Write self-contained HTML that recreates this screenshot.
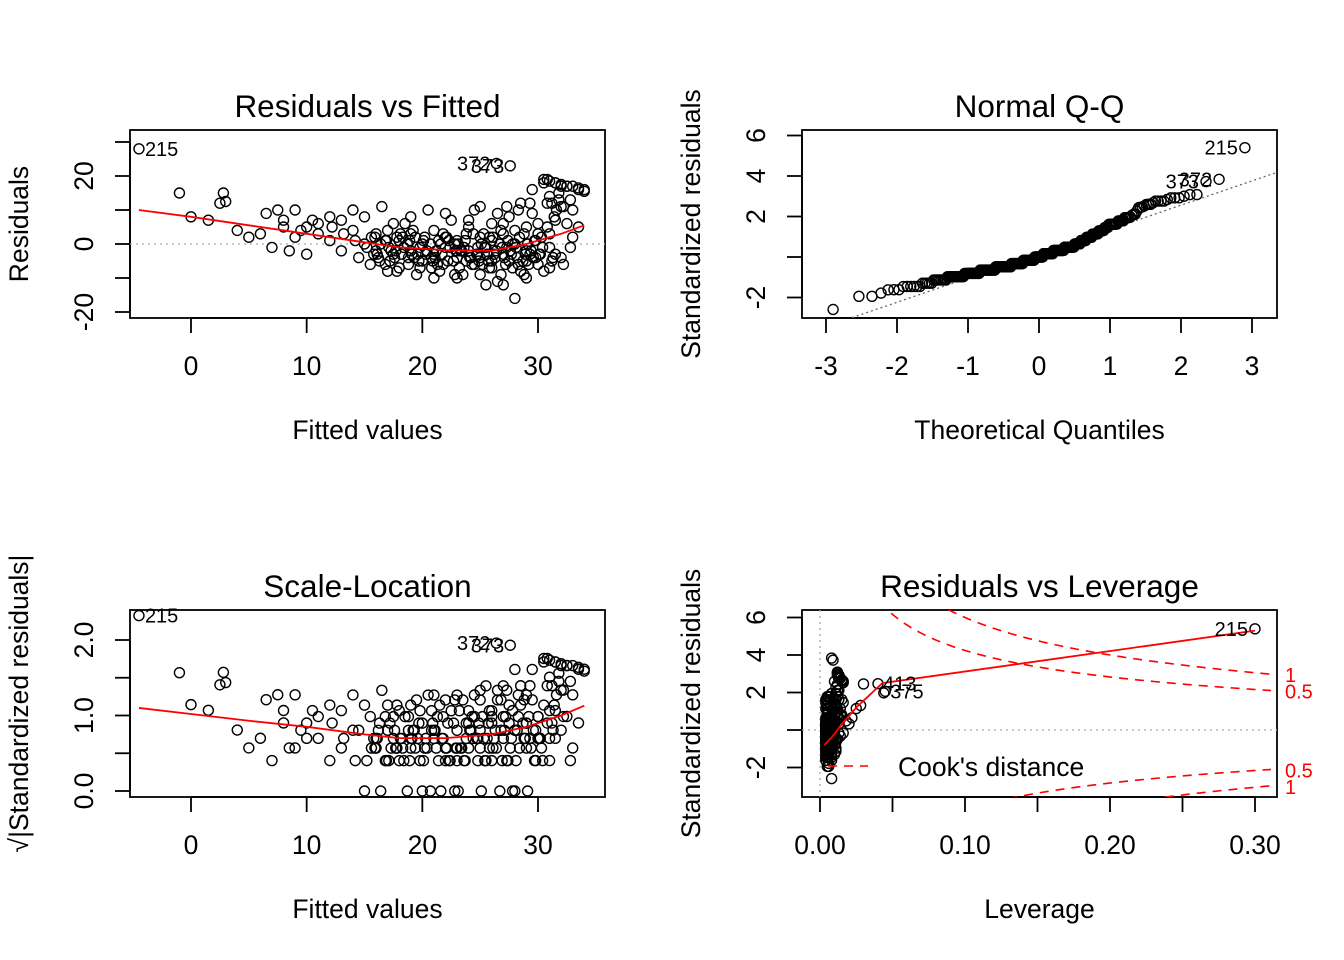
<!DOCTYPE html>
<html><head><meta charset="utf-8">
<style>
html,body{margin:0;padding:0;background:#fff;overflow:hidden;}
svg{display:block;font-family:"Liberation Sans",Arial,sans-serif;}
</style></head>
<body>
<svg id="c" width="1344" height="960" viewBox="0 0 1344 960"></svg>
<script>
// ---- data (one observation per index) ----
const fitted=[-4.5,-1,0,1.5,2.5,2.8,3,4,5,6,6.5,7,7.5,8,8,9,9,10,10,11,11,12,12,13,13,14,14,14.5,15,15,15.5,16,16,16.5,17,17,17.5,18,18,18.5,19,19,19.5,20,20,20.5,21,21,21.5,22,22,22.5,23,23,23.5,24,24,24.5,25,25,25,25.5,26,26,26,26.5,27,27,27.5,27.5,28,28,28.5,28.5,29,29,29.5,29.5,30,30,30.5,30.5,31,31,31.5,31.5,32,32,32.5,33,33.5,34,33,32.5,31,26.4,27.6,
16.2,16.8,17.2,17.8,18.2,18.8,19.2,19.8,20.2,20.8,21.2,21.8,22.2,22.8,23.2,23.8,24.2,24.8,25.2,25.8,26.2,26.8,27.2,27.8,28.2,28.8,29.2,29.8,30.2,30.8,17.5,19,21,22,23,24,25,26,27,28,29,30,31,31.5,32,32.8,31.8,30.8,29.8,28.8,27.8,26.8,25.8,24.8,23.8,22.8,21.8,20.8,19.8,18.8,17.8,16.8,15.8,14.2,13.2,12.2,10.5,9.5,8.5,26.5,27.3,28.3,29.3,24.5,23,25.5,27,29,31.2,32.2,33.5,32.8,
30.5,31,31.5,32,32.5,33,33.5,34,30.8,31.8,31.2,31.6,32.2,31.4,
15.2,15.6,16.1,16.4,16.9,17.3,17.6,18.1,18.4,18.7,19.1,19.4,19.7,20.1,20.4,20.7,21.1,21.4,21.7,22.1,22.4,22.7,23.1,23.4,23.7,24.1,24.4,24.7,25.1,25.4,25.7,26.1,26.4,26.7,27.1,27.4,27.7,28.1,28.4,28.7,29.1,29.4,29.7,30.1,30.4,16.3,17.1,18.3,19.3,20.3,21.3,22.3,23.3,24.3,25.3,26.3,27.3,28.3,29.3,30.3,17.7,19.6,21.6,23.6,25.6,27.6,29.6,18.9,20.9,22.9,24.9,26.9,28.9,15.9,31.3];
const resid=[28,15,8,7,12,15,12.5,4,2,3,9,-1,10,5,7,2,10,5,-3,6,3,8,1,7,-2,10,4,-4,8,0,-6,3,-2,11,-8,4,-3,1,-7,6,-2,3,-9,0,-5,10,4,-3,-8,2,-1,7,-4,1,-9,5,-2,-6,11,2,-4,-1,6,-7,1,-11,3,-3,8,-5,-16,0,12,-8,5,-2,16,9,-6,3,19,-8,14,-1,18,7,17,-4,17,10,16,15.5,2,6,-7,23.7,23,
-4,1,-5,2,-3,-6,4,-1,2,-7,-2,3,-5,0,-7,3,-4,-1,-6,2,-3,4,-6,0,-4,3,-6,1,-3,5,6,8,-10,9,-2,7,-9,-5,6,4,-5,6,3,-3,11,13,13,12,-4,-9,-7,-9,-7,-3,-5,-9,-6,-4,-7,-4,-8,-6,-3,1,3,5,7,4,-2,9,11,10,12,10,-10,-12,-12,-10,-5,-6,5,-1,
18,18.5,18,17.5,17,17,16.5,16,19,15,12,10,11,8,
-1,2,-3,0,1,-2,-4,3,-1,0,-3,2,-5,1,-2,0,-4,1,-3,2,-1,-5,0,-2,1,-4,3,-3,0,-1,-5,2,-2,0,-4,1,-3,-1,2,-5,0,-2,1,-3,-1,-5,-1,2,-4,-3,-6,1,-2,-6,3,-4,-1,-6,-3,2,-2,-3,0,-1,-3,-2,-4,1,-5,-2,-5,-1,-3,2,-4];
const leverage=[0.300,0.030,0.028,0.025,0.044,0.040,0.045,0.022,0.020,0.018,0.016,0.016,0.015,0.015,0.014,0.013,0.013,0.012,0.012,0.011,0.011,0.010,0.010,0.009,0.009,0.009,0.008,0.008,0.008,0.007,0.007,0.007,0.006,0.006,0.006,0.006,0.005,0.005,0.005,0.005,0.005,0.005,0.005,0.004,0.004,0.004,0.004,0.004,0.004,0.004,0.004,0.004,0.004,0.004,0.004,0.005,0.005,0.005,0.005,0.005,0.005,0.005,0.006,0.006,0.006,0.006,0.006,0.006,0.007,0.007,0.008,0.007,0.008,0.008,0.008,0.008,0.010,0.009,0.009,0.009,0.012,0.010,0.011,0.010,0.013,0.011,0.013,0.011,0.013,0.013,0.015,0.016,0.013,0.012,0.011,0.008,0.009,
0.006,0.006,0.006,0.005,0.005,0.005,0.005,0.005,0.004,0.004,0.004,0.004,0.004,0.004,0.004,0.004,0.005,0.005,0.005,0.005,0.006,0.006,0.006,0.007,0.007,0.008,0.008,0.009,0.009,0.010,0.005,0.005,0.004,0.004,0.004,0.005,0.005,0.006,0.006,0.007,0.008,0.009,0.010,0.011,0.012,0.013,0.012,0.011,0.009,0.008,0.007,0.006,0.005,0.005,0.004,0.004,0.004,0.004,0.005,0.005,0.005,0.006,0.007,0.008,0.009,0.010,0.012,0.013,0.014,0.006,0.007,0.007,0.008,0.005,0.004,0.005,0.006,0.008,0.010,0.011,0.014,0.013,
0.012,0.012,0.013,0.013,0.013,0.014,0.015,0.016,0.012,0.012,0.011,0.011,0.012,0.011,
0.007,0.007,0.006,0.006,0.006,0.005,0.005,0.005,0.005,0.005,
0.005,0.004,0.004,0.004,0.004,0.004,0.004,0.004,0.004,0.004,
0.004,0.004,0.004,0.004,0.004,0.005,0.005,0.005,0.005,0.005,
0.005,0.006,0.006,0.006,0.006,0.006,0.007,0.007,0.007,0.008,
0.008,0.008,0.009,0.009,0.009,0.006,0.006,0.005,0.005,0.004,
0.004,0.004,0.004,0.005,0.005,0.006,0.006,0.007,0.008,0.009,
0.005,0.005,0.004,0.004,0.005,0.007,0.009,0.005,0.004,0.004,
0.005,0.006,0.008,0.007,0.011];
const obsLabels=["215","372","373"];
const lev4Labels=["215","413","375"];
const sigma=6.2;
const nParams=4;
// smoothers
const smoothFx=[-4.5,0,5,10,15,18,22,26,29,32,34];
const smoothRes=[10,8,5.5,3,0.5,-1,-1.8,-2,0,3,5.5];
const smoothScale=[1.1,1.02,0.93,0.85,0.75,0.7,0.7,0.75,0.85,1.0,1.13];
const smoothLev=[0.003,0.008,0.015,0.025,0.043,0.30];
const smoothLevY=[-0.8,-0.4,0.3,1.2,2.5,5.3];
const cookLevels=[0.5,1];
// ticks
const xTicksFit=[0,10,20,30];
const yTicksRes=[-20,-10,0,10,20,30];
const yLabRes=[-20,0,20];
const xTicksQQ=[-3,-2,-1,0,1,2,3];
const yTicksQQ=[-2,0,2,4,6];
const yLabQQ=[-2,2,4,6];
const yTicksSL=[0,0.5,1,1.5,2];
const yLabSL=["0.0","1.0","2.0"];
const xTicksLev=[0,0.05,0.1,0.15,0.2,0.25,0.3];
const xLabLev=["0.00","0.10","0.20","0.30"];
const yTicksLev=[-2,0,2,4,6];
const yLabLev=[-2,2,4,6];

const NS="http://www.w3.org/2000/svg";
const svg=document.getElementById('c');
function el(tag,attrs,parent,text){const e=document.createElementNS(NS,tag);for(const k in attrs)e.setAttribute(k,attrs[k]);if(text!==undefined)e.textContent=text;(parent||svg).appendChild(e);return e;}
function lin(d0,d1,r0,r1){return v=>r0+(v-d0)*(r1-r0)/(d1-d0);}
function qnorm(p){const a=[-39.6968302866538,220.946098424521,-275.928510446969,138.357751867269,-30.6647980661472,2.50662827745924],b=[-54.4760987982241,161.585836858041,-155.698979859887,66.8013118877197,-13.2806815528857],c=[-0.00778489400243029,-0.322396458041136,-2.40075827716184,-2.54973253934373,4.37466414146497,2.93816398269878],d=[0.00778469570904146,0.32246712907004,2.445134137143,3.75440866190742];const pl=0.02425;let q,r;if(p<pl){q=Math.sqrt(-2*Math.log(p));return(((((c[0]*q+c[1])*q+c[2])*q+c[3])*q+c[4])*q+c[5])/((((d[0]*q+d[1])*q+d[2])*q+d[3])*q+1);}if(p>1-pl){q=Math.sqrt(-2*Math.log(1-p));return-(((((c[0]*q+c[1])*q+c[2])*q+c[3])*q+c[4])*q+c[5])/((((d[0]*q+d[1])*q+d[2])*q+d[3])*q+1);}q=p-0.5;r=q*q;return(((((a[0]*r+a[1])*r+a[2])*r+a[3])*r+a[4])*r+a[5])*q/(((((b[0]*r+b[1])*r+b[2])*r+b[3])*r+b[4])*r+1);}

const n=Math.min(fitted.length,resid.length,leverage.length);
const stdRes=resid.slice(0,n).map((r,i)=>r/(sigma*Math.sqrt(1-leverage[i])));
const idxAll=[...Array(n).keys()];
const labelIdx=idxAll.slice().sort((a,b)=>Math.abs(stdRes[b])-Math.abs(stdRes[a])).slice(0,3);
const cook=idxAll.map(i=>stdRes[i]*stdRes[i]*leverage[i]/(nParams*(1-leverage[i])));
const lev4LabelIdx=idxAll.slice().sort((a,b)=>cook[b]-cook[a]).slice(0,3);

function frame(name,box,title,xTitle,yTitle,xt,xl,yt,yl,sx,sy){
  const g=el('g',{});
  
  
  const cp=el('clipPath',{id:'clip-'+name},g);
  el('rect',{x:box.x0,y:box.y0,width:box.x1-box.x0,height:box.y1-box.y0},cp);
  const r=el('rect',{x:box.x0,y:box.y0,width:box.x1-box.x0,height:box.y1-box.y0,fill:'none',stroke:'#000','stroke-width':1.8},g);
  
  
  const t=el('text',{x:(box.x0+box.x1)/2,y:box.y0-13,'text-anchor':'middle','font-size':31.5},g,title);
  
  
  const xa=el('g',{},g);
  
  
  el('line',{x1:sx(xt[0]),x2:sx(xt[xt.length-1]),y1:box.y1,y2:box.y1,stroke:'#000','stroke-width':1.8},xa);
  xt.forEach(v=>el('line',{x1:sx(v),x2:sx(v),y1:box.y1,y2:box.y1+15,stroke:'#000','stroke-width':1.8},xa));
  xl.forEach(([v,s])=>{const tl=el('text',{x:sx(v),y:box.y1+57,'text-anchor':'middle','font-size':26.5},xa,s);});
  const ya=el('g',{},g);
  
  
  el('line',{x1:box.x0,x2:box.x0,y1:sy(yt[0]),y2:sy(yt[yt.length-1]),stroke:'#000','stroke-width':1.8},ya);
  yt.forEach(v=>el('line',{x1:box.x0-15,x2:box.x0,y1:sy(v),y2:sy(v),stroke:'#000','stroke-width':1.8},ya));
  yl.forEach(([v,s])=>{const yy=sy(v);const tl=el('text',{x:box.x0-37,y:yy,'text-anchor':'middle','font-size':26.5,transform:`rotate(-90 ${box.x0-37} ${yy})`},ya,s);});
  const xtT=el('text',{x:(box.x0+box.x1)/2,y:box.y1+121,'text-anchor':'middle','font-size':26.5},g,xTitle);
  
  
  const ycy=(box.y0+box.y1)/2+(yTitle.length>26?-10:0);
  const ytT=el('text',{x:box.x0-102,y:ycy,'text-anchor':'middle','font-size':26.5,transform:`rotate(-90 ${box.x0-102} ${ycy})`},g,yTitle);
  
  
  const pg=el('g',{'clip-path':`url(#clip-${name})`},g);
  return pg;
}
function pts(g,xs,ys){xs.forEach((x,i)=>{const c=el('circle',{cx:x,cy:ys[i],r:5,fill:'none',stroke:'#000','stroke-width':1.4},g);});}
function poly(g,xs,ys,attrs,name){const p=el('polyline',Object.assign({points:xs.map((x,i)=>x+','+ys[i]).join(' '),fill:'none'},attrs),g);return p;}
function lab(parent,x,y,anchor,s){const t=el('text',{x:x,y:y,'text-anchor':anchor,'font-size':20},parent,s);}

const F=fitted.slice(0,n),R=resid.slice(0,n),H=leverage.slice(0,n);
// Panel 1: Residuals vs Fitted
{const box={x0:130,x1:605,y0:130,y1:318};
 const sx=lin(0,30,191,538), sy=lin(0,20,244,176);
 const g=frame('residuals-vs-fitted',box,'Residuals vs Fitted','Fitted values','Residuals',xTicksFit,xTicksFit.map(v=>[v,String(v)]),yTicksRes.filter(v=>sy(v)>=box.y0-2),yLabRes.map(v=>[v,String(v)]),sx,sy);
 poly(g,[box.x0,box.x1],[sy(0),sy(0)],{stroke:'#aaa','stroke-width':1.3,'stroke-dasharray':'2 4'},'zero-line');
 pts(g,F.map(sx),R.map(sy));
 poly(g,smoothFx.map(sx),smoothRes.map(sy),{stroke:'#f00','stroke-width':1.8},'smoother-line');
 const par=svg.lastChild;
 labelIdx.forEach((i,k)=>{const left=k===0;lab(par,sx(F[i])+(left?6:-6),sy(R[i])+7,left?'start':'end',obsLabels[k]);});
}
// Panel 2: Normal Q-Q
{const box={x0:802,x1:1277,y0:130,y1:318};
 const sx=lin(0,3,1039,1252), sy=lin(0,4,257,176);
 const g=frame('normal-qq',box,'Normal Q-Q','Theoretical Quantiles','Standardized residuals',xTicksQQ,xTicksQQ.map(v=>[v,String(v)]),yTicksQQ,yLabQQ.map(v=>[v,String(v)]),sx,sy);
 const order=idxAll.slice().sort((a,b)=>stdRes[a]-stdRes[b]);
 const th=order.map((_,k)=>qnorm((k+0.5)/n));
 const sorted=order.map(i=>stdRes[i]);
 const q1=sorted[Math.floor(0.25*n)],q3=sorted[Math.floor(0.75*n)],t1=qnorm(0.25),t3=qnorm(0.75);
 const sl=(q3-q1)/(t3-t1),ic=q1-sl*t1;
 poly(g,[sx(-3.5),sx(3.5)],[sy(ic-3.5*sl),sy(ic+3.5*sl)],{stroke:'#666','stroke-width':1.3,'stroke-dasharray':'2 3'},'qq-reference-line');
 pts(g,th.map(sx),sorted.map(sy));
 const par=svg.lastChild;
 labelIdx.forEach((i,k)=>{const pos=order.indexOf(i);lab(par,sx(th[pos])-7,sy(sorted[pos])+7,'end',obsLabels[k]);});
}
// Panel 3: Scale-Location
{const box={x0:130,x1:605,y0:610,y1:797};
 const sx=lin(0,30,191,538), sy=lin(0,2,791,640);
 const g=frame('scale-location',box,'Scale-Location','Fitted values','\u221A|Standardized residuals|',xTicksFit,xTicksFit.map(v=>[v,String(v)]),yTicksSL,[[0,yLabSL[0]],[1,yLabSL[1]],[2,yLabSL[2]]],sx,sy);
 pts(g,F.map(sx),stdRes.map(v=>sy(Math.sqrt(Math.abs(v)))));
 poly(g,smoothFx.map(sx),smoothScale.map(sy),{stroke:'#f00','stroke-width':1.8},'smoother-line');
 const par=svg.lastChild;
 labelIdx.forEach((i,k)=>{const left=k===0;lab(par,sx(F[i])+(left?6:-6),sy(Math.sqrt(Math.abs(stdRes[i])))+7,left?'start':'end',obsLabels[k]);});
}
// Panel 4: Residuals vs Leverage
{const box={x0:802,x1:1277,y0:610,y1:797};
 const sx=lin(0,0.3,820,1255), sy=lin(0,4,730,655);
 const g=frame('residuals-vs-leverage',box,'Residuals vs Leverage','Leverage','Standardized residuals',xTicksLev,xLabLev.map((s,k)=>[k*0.1,s]),yTicksLev,yLabLev.map(v=>[v,String(v)]),sx,sy);
 poly(g,[box.x0,box.x1],[sy(0),sy(0)],{stroke:'#aaa','stroke-width':1.3,'stroke-dasharray':'2 4'},'zero-line');
 poly(g,[sx(0),sx(0)],[box.y0,box.y1],{stroke:'#aaa','stroke-width':1.3,'stroke-dasharray':'2 4'},'zero-leverage-line');
 pts(g,H.map(sx),stdRes.map(sy));
 poly(g,smoothLev.map(sx),smoothLevY.map(sy),{stroke:'#f00','stroke-width':1.8},'smoother-line');
 const hs=[];for(let h=0.005;h<=0.312;h+=0.002)hs.push(h);
 const par=svg.lastChild;
 cookLevels.forEach(c=>{[1,-1].forEach(sg=>{
   const ys=hs.map(h=>sg*Math.sqrt(c*nParams*(1-h)/h));
   poly(g,hs.map(sx),ys.map(sy),{stroke:'#f00','stroke-width':1.6,'stroke-dasharray':'9 7'},'cooks-contour');
   const hEnd=0.31,yv=sg*Math.sqrt(c*nParams*(1-hEnd)/hEnd);
   const t=el('text',{x:box.x1+8,y:sy(yv)+8,'font-size':20,fill:'#f00'},par,String(c));
 });});
 lev4LabelIdx.forEach((i,k)=>{lab(par,sx(H[i])+(k===0?-7:5),sy(stdRes[i])+7,k===0?'end':'start',lev4Labels[k]);});
 const lg=el('g',{},par);
 
 
 el('line',{x1:828,x2:868,y1:766,y2:766,stroke:'#f00','stroke-width':1.6,'stroke-dasharray':'9 7'},lg);
 el('text',{x:898,y:776,'font-size':26.5},lg,"Cook's distance");
}
</script>
</body></html>
